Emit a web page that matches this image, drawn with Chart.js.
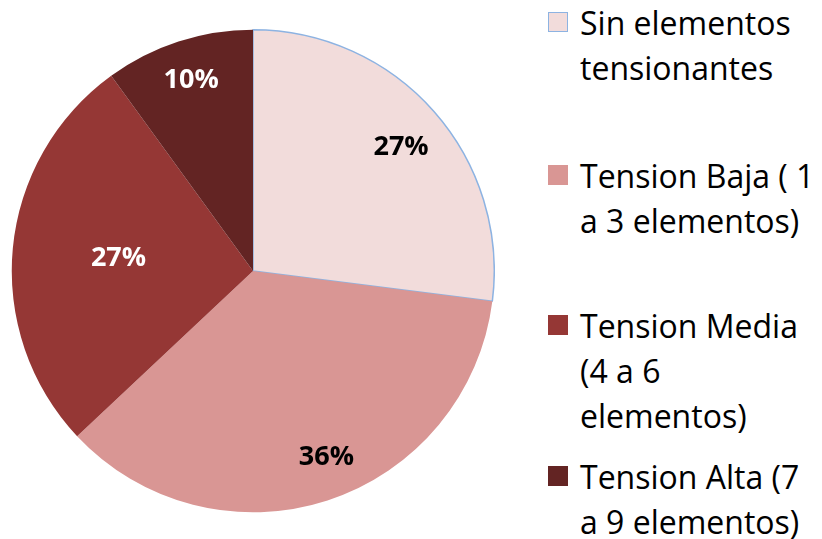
<!DOCTYPE html>
<html>
<head>
<meta charset="utf-8">
<script src="https://cdn.jsdelivr.net/npm/chart.js@4"></script>
<style>
  html, body { margin: 0; padding: 0; background: #fff; }
  body { width: 822px; height: 539px; position: relative; overflow: hidden; font-family: "Open Sans", sans-serif; }
  #pieBox { position: absolute; left: 11px; top: 29px; width: 484px; height: 484px; }
  .item { position: absolute; left: 548px; width: 274px; }
  .sw { position: absolute; left: 0; top: 12px; width: 20px; height: 20px; box-sizing: border-box; }
  .txt { position: absolute; left: 32px; top: 0; width: 242px; font-size: 32px; line-height: 45px; color: #000; }
</style>
</head>
<body>
<div id="pieBox"><canvas id="pie"></canvas></div>
<div id="legend"></div>
<script>
const categories = [
  "Sin elementos tensionantes",
  "Tension Baja ( 1 a 3 elementos)",
  "Tension Media (4 a 6 elementos)",
  "Tension Alta (7 a 9 elementos)"
];
const percents = [27, 36, 27, 10];
const sliceColors = ["#F2DCDB", "#D99694", "#953735", "#632423"];
const labelColors = ["#000000", "#000000", "#FFFFFF", "#FFFFFF"];
// where each percent label sits: fraction of radius, and small angle nudge (degrees)
const labelRadius = [0.80, 0.83, 0.56, 0.83];
const labelNudge = [1.5, -3.5, 0, 0];
const legendTops = [0, 153, 303, 454];

// legend on the right
const legend = document.getElementById("legend");
categories.forEach((c, i) => {
  const item = document.createElement("div");
  item.className = "item";
  item.style.top = legendTops[i] + "px";
  const sw = document.createElement("div");
  sw.className = "sw";
  sw.style.background = sliceColors[i];
  if (i === 0) sw.style.border = "1.5px solid #8DB3E2";
  const t = document.createElement("div");
  t.className = "txt";
  t.textContent = c;
  item.appendChild(sw);
  item.appendChild(t);
  legend.appendChild(item);
});

const pctLabels = {
  id: "pctLabels",
  afterDatasetsDraw(chart) {
    const ctx = chart.ctx;
    const arcs = chart.getDatasetMeta(0).data;
    ctx.save();
    ctx.font = "bold 27px 'Open Sans', sans-serif";
    ctx.textAlign = "center";
    ctx.textBaseline = "middle";
    arcs.forEach((arc, i) => {
      const p = arc.getProps(["x", "y", "startAngle", "endAngle", "outerRadius"], true);
      const mid = (p.startAngle + p.endAngle) / 2 + labelNudge[i] * Math.PI / 180;
      const r = p.outerRadius * labelRadius[i];
      ctx.fillStyle = labelColors[i];
      ctx.fillText(percents[i] + "%", p.x + Math.cos(mid) * r, p.y + Math.sin(mid) * r);
    });
    ctx.restore();
  }
};

new Chart(document.getElementById("pie"), {
  type: "pie",
  data: {
    labels: categories,
    datasets: [{
      data: percents,
      backgroundColor: sliceColors,
      borderColor: ["#8DB3E2", "#D99694", "#953735", "#632423"],
      borderWidth: [1.5, 0, 0, 0]
    }]
  },
  options: {
    responsive: true,
    maintainAspectRatio: false,
    animation: false,
    layout: { padding: 0 },
    plugins: {
      legend: { display: false },
      tooltip: { enabled: false }
    }
  },
  plugins: [pctLabels]
});
</script>
</body>
</html>
